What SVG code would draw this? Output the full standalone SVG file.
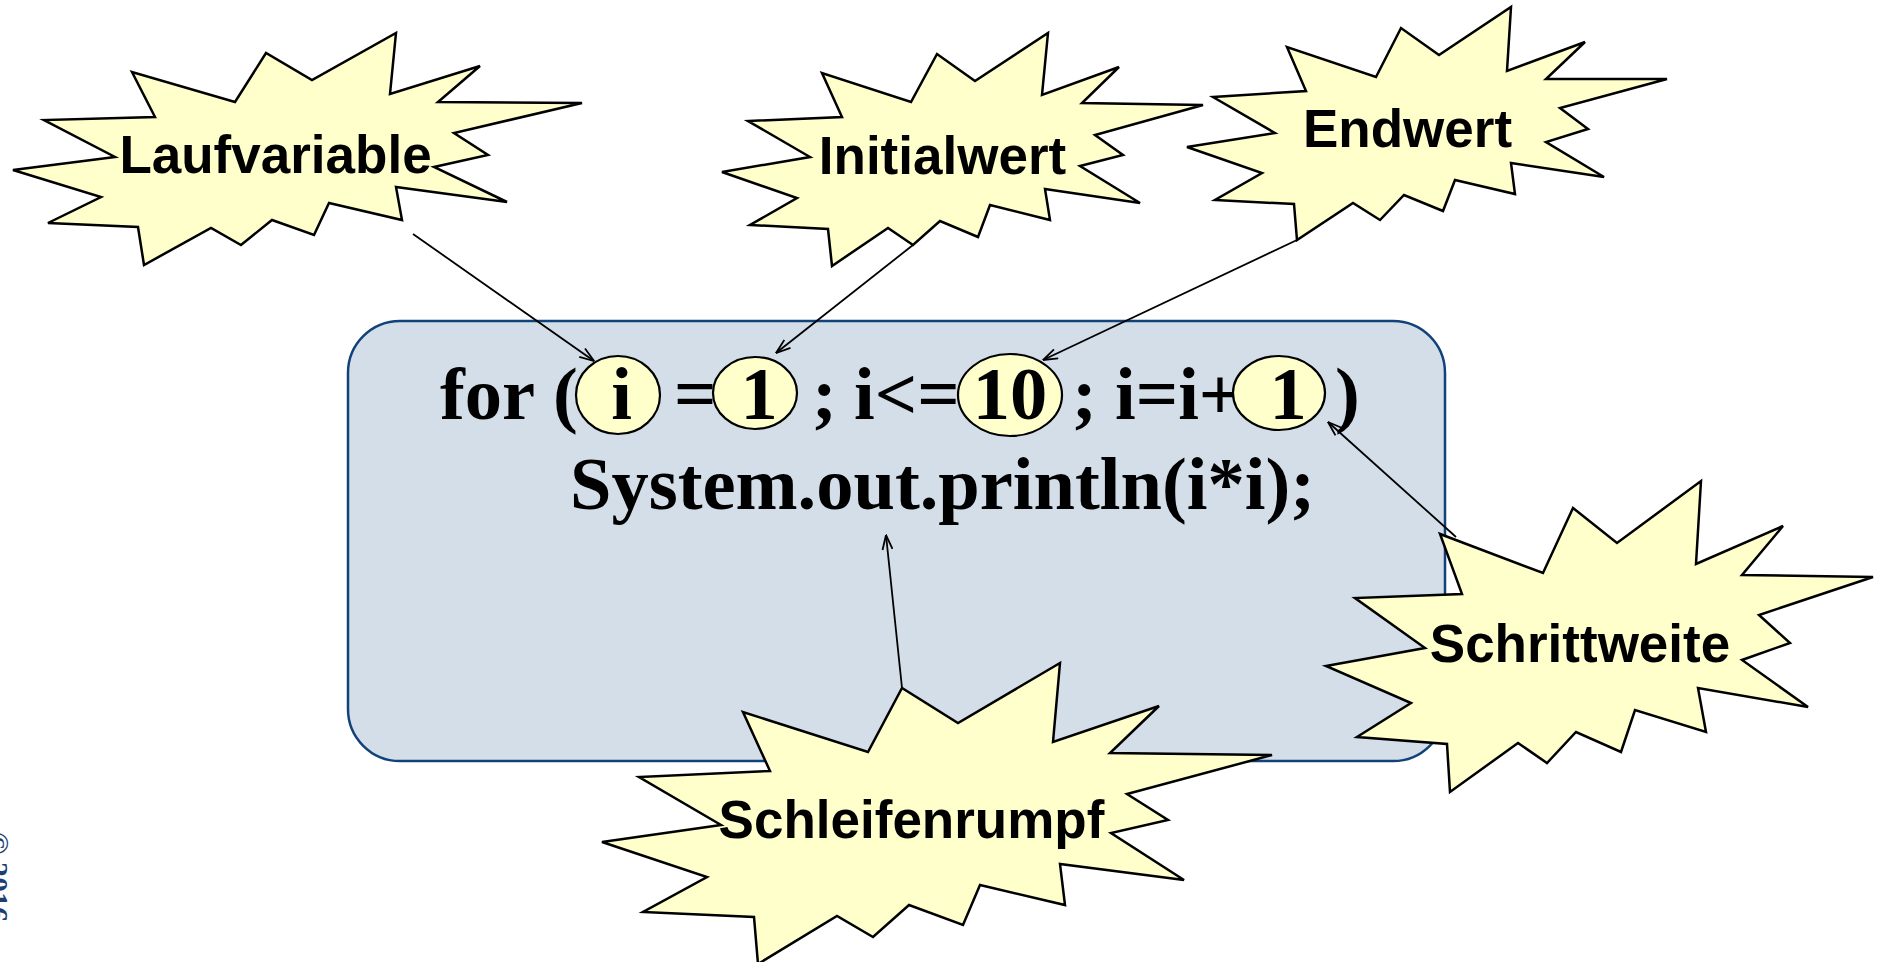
<svg xmlns="http://www.w3.org/2000/svg" width="1878" height="962" viewBox="0 0 1878 962">
<defs>
<style>
.burst{fill:#FFFFCC;stroke:#000;stroke-width:2.5;stroke-linejoin:miter}
.blabel{font-family:"Liberation Sans",Arial,sans-serif;font-weight:bold;font-size:53px;fill:#000;text-anchor:middle}
.code{font-family:"Liberation Serif","Times New Roman",serif;font-weight:bold;font-size:74.5px;fill:#000}
.mid{text-anchor:middle}
.hl{fill:#FFFFCC;stroke:#000;stroke-width:2.2}
.conn{stroke:#000;stroke-width:1.8;fill:none}
</style>
<marker id="arr" viewBox="0 0 16 12" refX="15.5" refY="6" markerWidth="16" markerHeight="12" orient="auto" markerUnits="userSpaceOnUse">
<path d="M1,1 L15.5,6 L1,11" fill="none" stroke="#000" stroke-width="1.8"/>
</marker>
</defs>
<rect width="1878" height="962" fill="#FFFFFF"/>

<g id="copyright">
<text transform="translate(-12,832) rotate(90)" font-family="Liberation Serif,serif" font-weight="bold" font-size="30" fill="#1F3F6F">© 2016</text>
</g>

<g id="codebox">
<rect x="348" y="321" width="1097" height="440" rx="52" ry="52" fill="#D3DEE8" stroke="#12427A" stroke-width="2.5"/>
<text class="code" y="419"><tspan x="440">for</tspan><tspan x="553">(</tspan><tspan x="674">=</tspan><tspan x="812">;</tspan><tspan x="854">i&lt;=</tspan><tspan x="1072">;</tspan><tspan x="1115">i=i+</tspan><tspan x="1335">)</tspan></text>
<text class="code" x="570" y="509">System.out.println(i*i);</text>
</g>

<g id="hl-var">
<ellipse class="hl" cx="618" cy="395" rx="42" ry="39"/>
<text class="code mid" x="621.5" y="419">i</text>
</g>
<g id="hl-init">
<ellipse class="hl" cx="755" cy="393" rx="42" ry="36"/>
<text class="code mid" x="759" y="419">1</text>
</g>
<g id="hl-end">
<ellipse class="hl" cx="1010" cy="395" rx="52" ry="41"/>
<text class="code mid" x="1010" y="419">10</text>
</g>
<g id="hl-step">
<ellipse class="hl" cx="1279" cy="393" rx="46" ry="37"/>
<text class="code mid" x="1288" y="419">1</text>
</g>

<g id="connectors">
<line class="conn" x1="413" y1="234" x2="594" y2="361" marker-end="url(#arr)"/>
<line class="conn" x1="913" y1="245" x2="776" y2="353" marker-end="url(#arr)"/>
<line class="conn" x1="1297" y1="240" x2="1043" y2="360" marker-end="url(#arr)"/>
<line class="conn" x1="1456" y1="537" x2="1328" y2="422" marker-end="url(#arr)"/>
<line class="conn" x1="902" y1="688" x2="886" y2="535" marker-end="url(#arr)"/>
</g>

<g id="laufvariable">
<polygon class="burst" points="396,33 390,94 480,66 438,102 582,103 454,133 488,155 434,167 507,202 396,187 402,220 329,203 314,235 272,220 241,245 211,228 144,265 138,227 48,223 101,197 13,170 115,157 44,120 155,117 132,72 235,102 266,53 312,80"/>
<text class="blabel" x="275.5" y="173">Laufvariable</text>
</g>

<g id="initialwert">
<polygon class="burst" points="1048,33 1042,95 1119,67 1082,103 1203,105 1095,135 1123,155 1080,166 1140,203 1045,189 1050,220 990,205 978,237 940,221 913,245 888,228 832,266 828,229 750,225 797,198 722,172 810,157 748,121 842,117 822,73 911,102 937,54 975,81"/>
<text class="blabel" x="942.5" y="174">Initialwert</text>
</g>

<g id="endwert">
<polygon class="burst" points="1511,7 1507,71 1585,42 1546,79 1667,79 1560,108 1588,129 1546,142 1604,177 1511,163 1515,194 1455,180 1443,211 1404,195 1380,220 1353,203 1297,240 1294,204 1215,200 1262,173 1187,147 1275,133 1213,97 1306,91 1287,47 1376,77 1401,28 1439,55"/>
<text class="blabel" x="1407.5" y="147">Endwert</text>
</g>

<g id="schrittweite">
<polygon class="burst" points="1701,481 1696,564 1783,526 1742,575 1873,577 1759,615 1790,643 1742,660 1808,707 1698,688 1706,732 1635,710 1621,752 1576,732 1547,763 1518,743 1450,792 1447,744 1357,737 1411,703 1326,666 1425,648 1355,598 1462,594 1440,534 1543,573 1573,508 1617,543"/>
<text class="blabel" x="1580" y="662">Schrittweite</text>
</g>

<g id="schleifenrumpf">
<polygon class="burst" points="1060,663 1053,742 1159,706 1110,753 1272,755 1127,794 1168,820 1111,833 1184,880 1060,864 1065,905 980,885 963,925 909,905 873,937 837,916 758,964 754,917 643,912 707,877 602,842 721,825 639,777 770,771 743,712 868,752 902,688 958,723"/>
<text class="blabel" x="911.5" y="838">Schleifenrumpf</text>
</g>
</svg>
